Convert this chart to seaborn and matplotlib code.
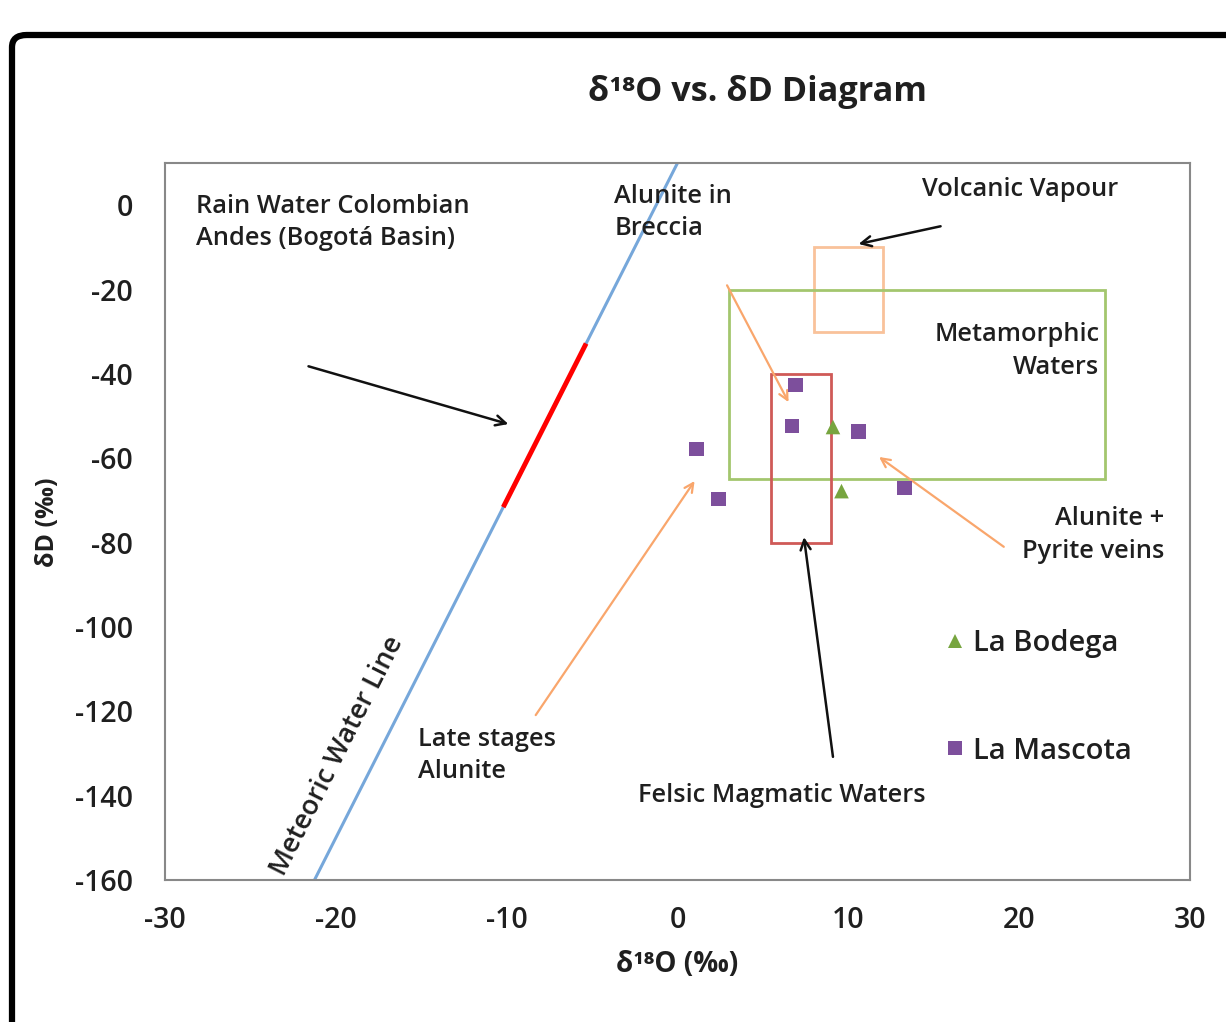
import matplotlib
matplotlib.use("Agg")
import matplotlib.pyplot as plt
import matplotlib.patches as mpatches
import numpy as np
import pandas as pd
import seaborn as sns

# ---------------- data ----------------
bodega_d18o = [9.1, 9.6]
bodega_dd = [-52.6, -67.8]
mascota_d18o = [6.9, 6.7, 10.6, 1.1, 2.4, 13.3]
mascota_dd = [-42.6, -52.4, -53.6, -57.8, -69.7, -67.1]

mwl_x = [-21.25, 0.0]          # meteoric water line dD = 8*d18O + 10
rain_x = [-10.2, -5.35]        # rain water segment on MWL

volcanic_box = (8.0, -30.0, 4.0, 20.0)       # x, y, w, h
metamorphic_box = (3.0, -65.0, 22.0, 45.0)
felsic_box = (5.5, -80.0, 3.5, 40.0)

x_ticks = [-30, -20, -10, 0, 10, 20, 30]
y_ticks = [0, -20, -40, -60, -80, -100, -120, -140, -160]

df = pd.DataFrame({
    "d18O": bodega_d18o + mascota_d18o,
    "dD": bodega_dd + mascota_dd,
    "Site": ["La Bodega"] * len(bodega_d18o) + ["La Mascota"] * len(mascota_d18o),
})

# ---------------- style ----------------
sns.set_theme(style="white")
plt.rcParams["font.family"] = ["Open Sans", "DejaVu Sans"]
plt.rcParams["axes.unicode_minus"] = False
TXT = "#1f1f1f"
W = "semibold"

fig = plt.figure(figsize=(12.26, 10.22), dpi=100)
ax = fig.add_axes([165 / 1226, 1 - 880 / 1022, (1190 - 165) / 1226, (880 - 163) / 1022])

# meteoric water line
mx = np.array(mwl_x)
ax.plot(mx, 8 * mx + 10, color="#76A7DA", lw=2.2, zorder=2)
rx = np.array(rain_x)
ax.plot(rx, 8 * rx + 10, color="#FF0000", lw=3.5, zorder=3, solid_capstyle="butt")

# boxes
for (bx, by, bw, bh), col in [(volcanic_box, "#F9C29A"), (metamorphic_box, "#A3C66E"), (felsic_box, "#CF5A57")]:
    ax.add_patch(mpatches.Rectangle((bx, by), bw, bh, fill=False, edgecolor=col, lw=2.0, zorder=2))

# scatter
sns.scatterplot(data=df, x="d18O", y="dD", hue="Site", style="Site",
                palette={"La Bodega": "#77A53F", "La Mascota": "#7D4F9C"},
                markers={"La Bodega": "^", "La Mascota": "s"},
                s=110, linewidth=0, ax=ax, zorder=4)

ax.set_xlim(-30, 30)
ax.set_ylim(-160, 10)
ax.set_xticks(x_ticks)
ax.set_yticks(y_ticks)
ax.tick_params(axis="both", length=0, labelsize=20.5, colors=TXT)
ax.tick_params(axis="y", pad=23)
ax.tick_params(axis="x", pad=19)
for lab in ax.get_xticklabels() + ax.get_yticklabels():
    lab.set_fontweight(W)
for sp in ax.spines.values():
    sp.set_color("#888888")
    sp.set_linewidth(1.5)
ax.set_xlabel("")
ax.set_ylabel("")

# legend
leg = ax.legend(loc="center", bbox_to_anchor=(0.850, 0.255), frameon=False,
                prop={"size": 21, "weight": W}, labelspacing=2.7, handletextpad=0.1,
                handlelength=1.0, markerscale=0.95, title=None)
for t in leg.get_texts():
    t.set_color(TXT)

# annotations text
fs = 18.3
kw = dict(fontsize=fs, color=TXT, fontweight=W, linespacing=1.38)
ax.text(-28.2, 2.6, "Rain Water Colombian\nAndes (Bogotá Basin)", ha="left", va="top", **kw)
ax.text(-3.7, 5.0, "Alunite in\nBreccia", ha="left", va="top", **kw)
ax.text(14.3, 3.6, "Volcanic Vapour", ha="left", va="center", **kw)
ax.text(24.7, -34.6, "Metamorphic\nWaters", ha="right", va="center", multialignment="right", **kw)
ax.text(28.5, -78.2, "Alunite +\nPyrite veins", ha="right", va="center", multialignment="right", **kw)
ax.text(-15.2, -130.5, "Late stages\nAlunite", ha="left", va="center", **kw)
ax.text(-2.3, -140.0, "Felsic Magmatic Waters", ha="left", va="center", **kw)
ax.text(-19.9, -130.6, "Meteoric Water Line", fontsize=19.5, color=TXT, fontweight=W,
        ha="center", va="center", rotation=63.2, rotation_mode="anchor")

# arrows
blk = dict(arrowstyle="->", color="#111111", lw=1.8, mutation_scale=18, shrinkA=0, shrinkB=0)
org = dict(arrowstyle="->", color="#F9A66C", lw=1.6, mutation_scale=16, shrinkA=0, shrinkB=0)
ax.annotate("", xy=(-9.9, -51.9), xytext=(-21.6, -38.2), arrowprops=blk)
ax.annotate("", xy=(10.6, -9.2), xytext=(15.4, -5.0), arrowprops=blk)
ax.annotate("", xy=(7.4, -78.7), xytext=(9.1, -130.8), arrowprops=blk)
ax.annotate("", xy=(6.5, -46.7), xytext=(2.9, -19.0), arrowprops=org)
ax.annotate("", xy=(11.8, -59.7), xytext=(19.1, -81.0), arrowprops=org)
ax.annotate("", xy=(1.0, -65.4), xytext=(-8.3, -120.9), arrowprops=org)

# titles / labels
fig.text(757 / 1226, 1 - 92 / 1022, "δ¹⁸O vs. δD Diagram", fontsize=24.7, fontweight="bold",
         color=TXT, ha="center", va="center")
fig.text(677 / 1226, 1 - 964 / 1022, "δ¹⁸O (‰)", fontsize=20, fontweight="bold",
         color=TXT, ha="center", va="center")
fig.text(47 / 1226, 1 - 522 / 1022, "δD (‰)", fontsize=18, fontweight="bold",
         color=TXT, ha="center", va="center", rotation=90)

# outer frame
frame = mpatches.FancyBboxPatch((12 / 1226, -0.2), 1.3, 0.2 + 1 - 35 / 1022,
                                boxstyle="round,pad=0,rounding_size=0.012",
                                transform=fig.transFigure, fill=False, edgecolor="black",
                                lw=4.5, clip_on=False)
fig.patches.append(frame)

fig.savefig("out.png", dpi=100)
